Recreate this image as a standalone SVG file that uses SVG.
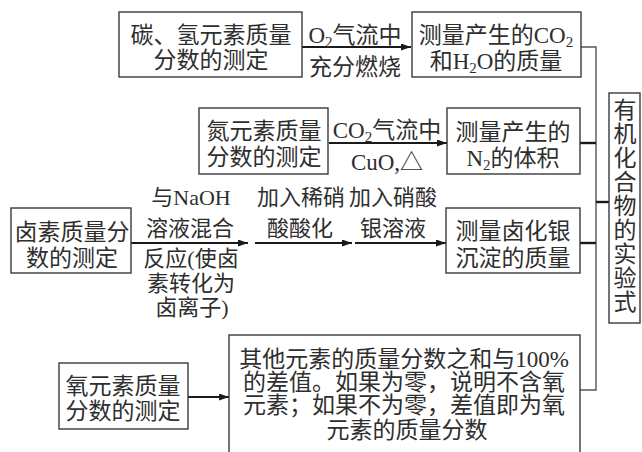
<svg xmlns="http://www.w3.org/2000/svg" width="642" height="452" viewBox="0 0 642 452">
<defs>
<style>
.box{fill:#fff;stroke:#3a3a3a;stroke-width:1.4}
.t{font-family:"Liberation Serif","Noto Sans CJK SC",serif;font-size:23px;fill:#2e2e2e;text-anchor:middle}
.s{font-size:22px}
.arr{stroke:#1a1a1a;stroke-width:2.2;fill:none}
.thin{stroke:#555;stroke-width:1.4;fill:none}
.thick{stroke:#1a1a1a;stroke-width:2.4;fill:none}
.sub{font-size:15px}
</style>
<marker id="ah" markerUnits="userSpaceOnUse" markerWidth="10" markerHeight="7" refX="10" refY="3.5" orient="auto">
<path d="M0,0 L10,3.5 L0,7 Z" fill="#1a1a1a"/>
</marker>
</defs>
<rect width="642" height="452" fill="#fff"/>

<g id="connectors">
<line class="arr" x1="302" y1="47" x2="411" y2="47" marker-end="url(#ah)"/>
<line class="arr" x1="329" y1="143" x2="447" y2="143" marker-end="url(#ah)"/>
<line class="arr" x1="131" y1="243" x2="248" y2="243" marker-end="url(#ah)"/>
<line class="arr" x1="255" y1="243" x2="352" y2="243" marker-end="url(#ah)"/>
<line class="arr" x1="355" y1="243" x2="446" y2="243" marker-end="url(#ah)"/>
<line class="arr" x1="188" y1="397" x2="229" y2="397" marker-end="url(#ah)"/>
<polyline class="thin" points="581,47 596,47 596,390 580,390"/>
<line class="thick" x1="580" y1="143" x2="596" y2="143"/>
<line class="thick" x1="580" y1="243" x2="596" y2="243"/>
<line class="thick" x1="596" y1="202" x2="609" y2="202"/>
<text class="t" x="355" y="42.5">O<tspan class="sub" dy="4">2</tspan><tspan dy="-4">气流中</tspan></text>
<text class="t" x="355" y="74.5">充分燃烧</text>
<text class="t" x="387" y="137.5">CO<tspan class="sub" dy="4">2</tspan><tspan dy="-4">气流中</tspan></text>
<text class="t" x="387" y="169.5">CuO,△</text>
<text class="t s" x="191" y="204.5">与NaOH</text>
<text class="t s" x="190" y="235.5">溶液混合</text>
<text class="t s" x="191" y="265.5">反应(使卤</text>
<text class="t s" x="191" y="290.5">素转化为</text>
<text class="t s" x="192" y="314.5">卤离子)</text>
<text class="t s" x="301" y="204.5">加入稀硝</text>
<text class="t s" x="300" y="235.5">酸酸化</text>
<text class="t s" x="393" y="204.5">加入硝酸</text>
<text class="t s" x="393" y="235.5">银溶液</text>
</g>

<g id="n1">
<rect class="box" x="119" y="12" width="183" height="65"/>
<text class="t" x="211" y="42.5">碳、氢元素质量</text>
<text class="t" x="211" y="67.5">分数的测定</text>
</g>
<g id="n2">
<rect class="box" x="412" y="12" width="169" height="65"/>
<text class="t" x="496" y="42.5">测量产生的CO<tspan class="sub" dy="4">2</tspan></text>
<text class="t" x="496" y="68.5">和H<tspan class="sub" dy="4">2</tspan><tspan dy="-4">O的质量</tspan></text>
</g>
<g id="n3">
<rect class="box" x="199" y="108" width="129" height="66"/>
<text class="t" x="264" y="138.5">氮元素质量</text>
<text class="t" x="264" y="164.5">分数的测定</text>
</g>
<g id="n4">
<rect class="box" x="447" y="108" width="133" height="66"/>
<text class="t" x="513" y="139.5">测量产生的</text>
<text class="t" x="513" y="165.5">N<tspan class="sub" dy="4">2</tspan><tspan dy="-4">的体积</tspan></text>
</g>
<g id="n5">
<rect class="box" x="11" y="208" width="120" height="65"/>
<text class="t" x="72" y="239.5">卤素质量分</text>
<text class="t" x="72" y="265.5">数的测定</text>
</g>
<g id="n6">
<rect class="box" x="446" y="208" width="134" height="65"/>
<text class="t" x="513" y="238.5">测量卤化银</text>
<text class="t" x="513" y="265.5">沉淀的质量</text>
</g>
<g id="n7">
<rect class="box" x="59" y="363" width="129" height="66"/>
<text class="t" x="123" y="393.5">氧元素质量</text>
<text class="t" x="123" y="418.5">分数的测定</text>
</g>
<g id="n8">
<rect class="box" x="229" y="335" width="351" height="130"/>
<text class="t" x="404" y="366.5">其他元素的质量分数之和与100%</text>
<text class="t" x="404" y="389.5">的差值。如果为零，说明不含氧</text>
<text class="t" x="404" y="412.5">元素；如果不为零，差值即为氧</text>
<text class="t" x="407" y="437.5">元素的质量分数</text>
</g>
<g id="n9">
<rect class="box" x="609" y="93" width="31" height="230"/>
<text class="t" x="625" y="117.5">有</text>
<text class="t" x="625" y="141.5">机</text>
<text class="t" x="625" y="165.5">化</text>
<text class="t" x="625" y="189.5">合</text>
<text class="t" x="625" y="213.5">物</text>
<text class="t" x="625" y="237.5">的</text>
<text class="t" x="625" y="261.5">实</text>
<text class="t" x="625" y="285.5">验</text>
<text class="t" x="625" y="309.5">式</text>
</g>
</svg>
